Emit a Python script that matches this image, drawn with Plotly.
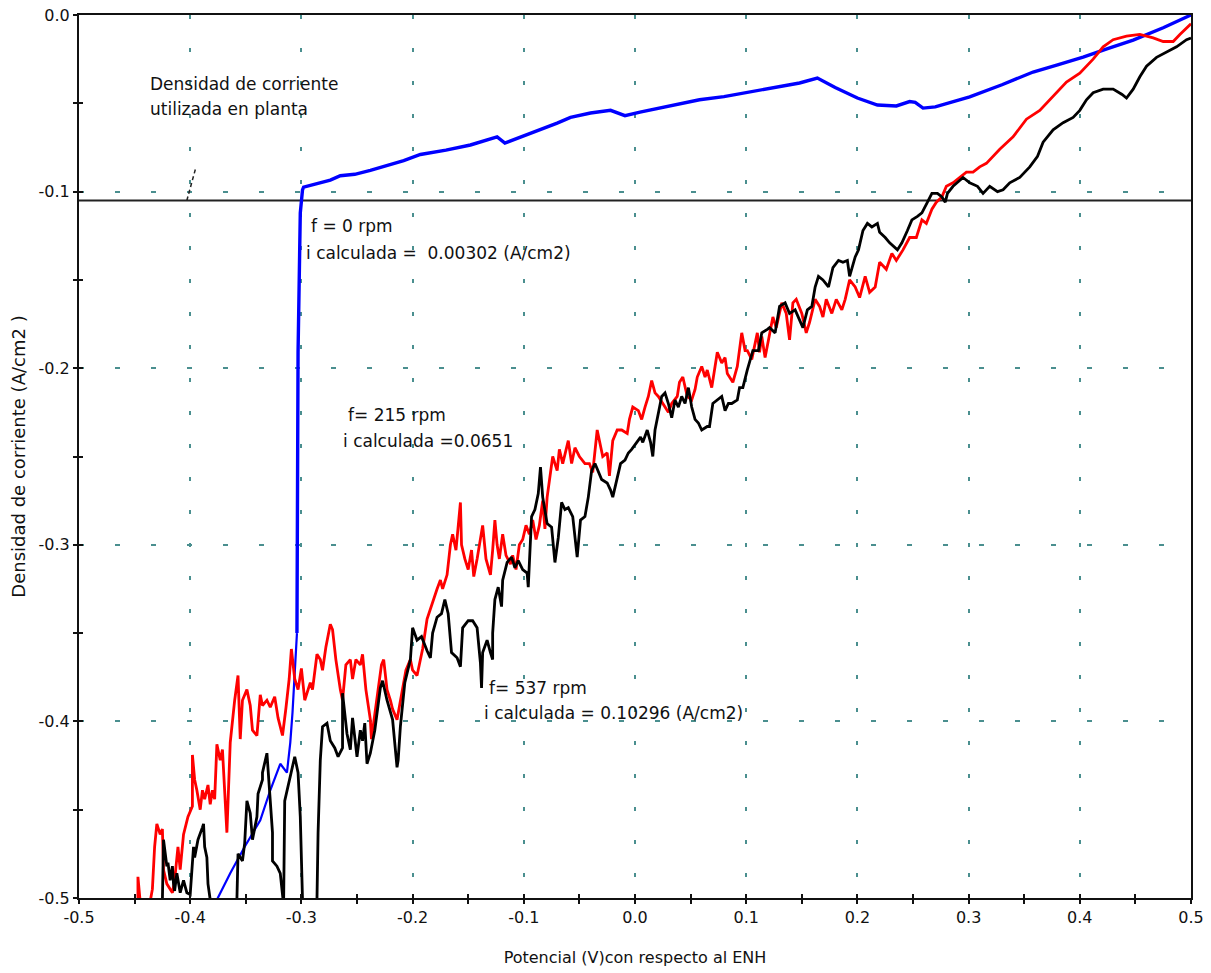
import plotly.graph_objects as go

# Potential (V vs. ENH) and current density (A/cm2) for each rotation speed
potential_0rpm = [-0.376, -0.364, -0.351, -0.337, -0.328, -0.319, -0.313, -0.310, -0.308, -0.304,
                  -0.303, -0.301, -0.299, -0.298, -0.290, -0.283, -0.274, -0.265, -0.252, -0.238,
                  -0.222, -0.208, -0.193, -0.170, -0.148, -0.136, -0.124, -0.117, -0.100, -0.085,
                  -0.070, -0.058, -0.040, -0.022, -0.009, 0.0045, 0.030, 0.058, 0.080, 0.103,
                  0.125, 0.148, 0.164, 0.180, 0.200, 0.218, 0.235, 0.247, 0.252, 0.259,
                  0.270, 0.301, 0.330, 0.358, 0.380, 0.403, 0.425, 0.448, 0.475, 0.500]
current_0rpm = [-0.501, -0.486, -0.471, -0.456, -0.439, -0.424, -0.429, -0.412, -0.395, -0.350,
                -0.191, -0.112, -0.099, -0.0975, -0.0962, -0.0946, -0.0935, -0.091, -0.0902, -0.088,
                -0.0850, -0.0825, -0.079, -0.0765, -0.0736, -0.0712, -0.069, -0.0725, -0.0685, -0.065,
                -0.0612, -0.058, -0.0555, -0.054, -0.057, -0.055, -0.0518, -0.048, -0.0462, -0.0436,
                -0.0412, -0.0385, -0.0357, -0.041, -0.047, -0.051, -0.0515, -0.049, -0.0495, -0.0527,
                -0.052, -0.0464, -0.0395, -0.0323, -0.0282, -0.0238, -0.0190, -0.0142, -0.0072, 0.0]

potential_215rpm = [
    -0.447, -0.447, -0.445, -0.436, -0.434, -0.432, -0.430, -0.427, -0.425, -0.424,
    -0.421, -0.416, -0.414, -0.411, -0.409, -0.406, -0.402, -0.398, -0.398, -0.396,
    -0.394, -0.391, -0.389, -0.387, -0.384, -0.382, -0.380, -0.378, -0.376, -0.373,
    -0.371, -0.369, -0.367, -0.364, -0.362, -0.360, -0.357, -0.355, -0.353, -0.349,
    -0.346, -0.344, -0.340, -0.337, -0.335, -0.331, -0.328, -0.324, -0.321, -0.317,
    -0.314, -0.311, -0.309, -0.306, -0.303, -0.300, -0.297, -0.292, -0.290, -0.286,
    -0.283, -0.281, -0.278, -0.274, -0.272, -0.269, -0.265, -0.263, -0.260, -0.256,
    -0.254, -0.251, -0.247, -0.245, -0.242, -0.238, -0.237, -0.234, -0.231, -0.228,
    -0.226, -0.223, -0.220, -0.218, -0.214, -0.211, -0.209, -0.206, -0.202, -0.200,
    -0.196, -0.193, -0.191, -0.187, -0.184, -0.181, -0.178, -0.175, -0.173, -0.169,
    -0.166, -0.164, -0.161, -0.157, -0.156, -0.153, -0.150, -0.147, -0.145, -0.142,
    -0.139, -0.137, -0.134, -0.130, -0.128, -0.126, -0.124, -0.122, -0.119, -0.116,
    -0.112, -0.110, -0.107, -0.104, -0.101, -0.098, -0.095, -0.092, -0.089, -0.086,
    -0.083, -0.081, -0.079, -0.074, -0.070, -0.068, -0.065, -0.060, -0.057, -0.054,
    -0.050, -0.045, -0.041, -0.038, -0.034, -0.032, -0.029, -0.025, -0.023, -0.020,
    -0.016, -0.012, -0.007, -0.005, -0.002, 0.003, 0.006, 0.009, 0.012, 0.015,
    0.018, 0.021, 0.025, 0.030, 0.033, 0.038, 0.040, 0.043, 0.047, 0.051,
    0.054, 0.056, 0.060, 0.063, 0.065, 0.069, 0.072, 0.074, 0.078, 0.081,
    0.083, 0.088, 0.092, 0.096, 0.099, 0.101, 0.105, 0.110, 0.112, 0.114,
    0.117, 0.121, 0.124, 0.127, 0.132, 0.136, 0.139, 0.142, 0.145, 0.150,
    0.154, 0.157, 0.162, 0.166, 0.169, 0.172, 0.177, 0.181, 0.186, 0.189,
    0.193, 0.198, 0.202, 0.207, 0.211, 0.216, 0.220, 0.226, 0.231, 0.235,
    0.241, 0.247, 0.253, 0.258, 0.262, 0.267, 0.271, 0.276, 0.280, 0.286,
    0.292, 0.298, 0.304, 0.310, 0.316, 0.328, 0.340, 0.352, 0.364, 0.376,
    0.388, 0.400, 0.412, 0.421, 0.430, 0.442, 0.454, 0.466, 0.475, 0.484,
    0.490, 0.500]
current_215rpm = [
    -0.502, -0.488, -0.502, -0.502, -0.495, -0.471, -0.458, -0.464, -0.461, -0.484,
    -0.492, -0.497, -0.490, -0.471, -0.484, -0.464, -0.454, -0.448, -0.419, -0.433,
    -0.439, -0.450, -0.439, -0.444, -0.436, -0.447, -0.439, -0.444, -0.413, -0.422,
    -0.416, -0.439, -0.463, -0.412, -0.399, -0.388, -0.374, -0.410, -0.388, -0.382,
    -0.391, -0.405, -0.408, -0.385, -0.391, -0.388, -0.392, -0.386, -0.398, -0.408,
    -0.393, -0.376, -0.359, -0.376, -0.382, -0.370, -0.388, -0.378, -0.382, -0.362,
    -0.365, -0.371, -0.358, -0.345, -0.348, -0.365, -0.382, -0.388, -0.368, -0.365,
    -0.376, -0.365, -0.368, -0.362, -0.382, -0.399, -0.410, -0.396, -0.382, -0.368,
    -0.365, -0.382, -0.388, -0.393, -0.399, -0.388, -0.382, -0.371, -0.365, -0.371,
    -0.374, -0.365, -0.359, -0.342, -0.336, -0.331, -0.325, -0.320, -0.325, -0.317,
    -0.300, -0.294, -0.303, -0.276, -0.300, -0.308, -0.314, -0.303, -0.318, -0.308,
    -0.297, -0.289, -0.308, -0.317, -0.303, -0.286, -0.300, -0.308, -0.294, -0.306,
    -0.311, -0.306, -0.314, -0.300, -0.297, -0.289, -0.294, -0.286, -0.297, -0.289,
    -0.275, -0.291, -0.273, -0.250, -0.258, -0.246, -0.254, -0.241, -0.254, -0.245,
    -0.250, -0.254, -0.254, -0.259, -0.235, -0.241, -0.250, -0.248, -0.261, -0.241,
    -0.235, -0.235, -0.237, -0.229, -0.222, -0.224, -0.229, -0.222, -0.216, -0.207,
    -0.214, -0.216, -0.220, -0.225, -0.220, -0.216, -0.208, -0.205, -0.216, -0.218,
    -0.212, -0.205, -0.199, -0.205, -0.201, -0.211, -0.199, -0.191, -0.197, -0.194,
    -0.203, -0.208, -0.199, -0.180, -0.190, -0.190, -0.195, -0.180, -0.191, -0.182,
    -0.194, -0.180, -0.171, -0.177, -0.163, -0.169, -0.184, -0.163, -0.161, -0.169,
    -0.180, -0.174, -0.161, -0.165, -0.171, -0.161, -0.169, -0.161, -0.167, -0.161,
    -0.150, -0.154, -0.160, -0.148, -0.157, -0.154, -0.140, -0.144, -0.135, -0.139,
    -0.133, -0.126, -0.126, -0.116, -0.118, -0.110, -0.106, -0.103, -0.097, -0.095,
    -0.092, -0.089, -0.089, -0.086, -0.084, -0.076, -0.069, -0.059, -0.054, -0.046,
    -0.038, -0.033, -0.025, -0.018, -0.014, -0.012, -0.011, -0.013, -0.015, -0.015,
    -0.011, -0.005]

potential_537rpm = [
    -0.425, -0.424, -0.421, -0.420, -0.418, -0.416, -0.415, -0.414, -0.412, -0.409,
    -0.406, -0.403, -0.400, -0.398, -0.397, -0.396, -0.393, -0.389, -0.388, -0.387,
    -0.385, -0.384, -0.382, -0.369, -0.358, -0.357, -0.353, -0.351, -0.349, -0.346,
    -0.344, -0.340, -0.339, -0.335, -0.335, -0.331, -0.328, -0.326, -0.326, -0.322,
    -0.319, -0.317, -0.316, -0.315, -0.310, -0.306, -0.303, -0.301, -0.299, -0.292,
    -0.286, -0.285, -0.283, -0.281, -0.277, -0.274, -0.270, -0.267, -0.263, -0.263,
    -0.259, -0.256, -0.254, -0.250, -0.247, -0.245, -0.243, -0.241, -0.238, -0.234,
    -0.229, -0.227, -0.223, -0.220, -0.218, -0.214, -0.213, -0.211, -0.207, -0.202,
    -0.200, -0.196, -0.192, -0.187, -0.184, -0.182, -0.178, -0.174, -0.171, -0.168,
    -0.165, -0.160, -0.157, -0.155, -0.150, -0.146, -0.142, -0.139, -0.138, -0.137,
    -0.133, -0.130, -0.128, -0.128, -0.126, -0.123, -0.120, -0.119, -0.115, -0.111,
    -0.108, -0.105, -0.101, -0.097, -0.096, -0.093, -0.090, -0.087, -0.085, -0.083,
    -0.079, -0.075, -0.072, -0.069, -0.066, -0.063, -0.060, -0.056, -0.052, -0.049,
    -0.045, -0.042, -0.039, -0.036, -0.033, -0.030, -0.025, -0.022, -0.020, -0.016,
    -0.013, -0.009, -0.006, -0.003, 0.002, 0.005, 0.007, 0.011, 0.014, 0.016,
    0.018, 0.021, 0.024, 0.027, 0.030, 0.033, 0.036, 0.039, 0.042, 0.045,
    0.048, 0.051, 0.054, 0.057, 0.060, 0.065, 0.067, 0.070, 0.074, 0.078,
    0.081, 0.084, 0.087, 0.092, 0.094, 0.097, 0.101, 0.103, 0.106, 0.111,
    0.114, 0.119, 0.121, 0.126, 0.130, 0.135, 0.139, 0.144, 0.148, 0.151,
    0.155, 0.159, 0.162, 0.165, 0.169, 0.174, 0.178, 0.183, 0.187, 0.191,
    0.193, 0.198, 0.201, 0.205, 0.209, 0.213, 0.218, 0.220, 0.225, 0.229,
    0.236, 0.240, 0.245, 0.249, 0.254, 0.258, 0.263, 0.267, 0.272, 0.276,
    0.279, 0.281, 0.286, 0.290, 0.295, 0.301, 0.308, 0.313, 0.319, 0.326,
    0.331, 0.337, 0.346, 0.355, 0.362, 0.367, 0.376, 0.385, 0.394, 0.400,
    0.406, 0.412, 0.421, 0.430, 0.438, 0.442, 0.448, 0.454, 0.460, 0.469,
    0.478, 0.487, 0.496, 0.500]
current_537rpm = [
    -0.501, -0.467, -0.482, -0.480, -0.490, -0.482, -0.492, -0.496, -0.486, -0.497,
    -0.490, -0.497, -0.498, -0.479, -0.471, -0.477, -0.467, -0.460, -0.458, -0.471,
    -0.477, -0.492, -0.501, -0.513, -0.501, -0.475, -0.479, -0.469, -0.445, -0.452,
    -0.467, -0.454, -0.441, -0.433, -0.429, -0.418, -0.449, -0.463, -0.479, -0.482,
    -0.486, -0.501, -0.504, -0.445, -0.432, -0.420, -0.429, -0.454, -0.501, -0.513,
    -0.501, -0.463, -0.422, -0.403, -0.401, -0.411, -0.415, -0.420, -0.415, -0.384,
    -0.407, -0.416, -0.398, -0.420, -0.405, -0.411, -0.401, -0.424, -0.418, -0.405,
    -0.381, -0.377, -0.388, -0.394, -0.399, -0.426, -0.422, -0.403, -0.378, -0.365,
    -0.347, -0.354, -0.352, -0.360, -0.364, -0.350, -0.341, -0.339, -0.331, -0.339,
    -0.361, -0.364, -0.369, -0.347, -0.343, -0.343, -0.347, -0.367, -0.381, -0.361,
    -0.354, -0.361, -0.365, -0.350, -0.331, -0.324, -0.335, -0.320, -0.310, -0.307,
    -0.313, -0.309, -0.314, -0.316, -0.324, -0.284, -0.280, -0.271, -0.256, -0.273,
    -0.288, -0.290, -0.310, -0.296, -0.276, -0.280, -0.279, -0.284, -0.307, -0.286,
    -0.284, -0.273, -0.258, -0.254, -0.258, -0.263, -0.265, -0.269, -0.273, -0.262,
    -0.254, -0.252, -0.248, -0.246, -0.242, -0.239, -0.242, -0.235, -0.242, -0.250,
    -0.235, -0.225, -0.216, -0.214, -0.220, -0.228, -0.218, -0.222, -0.216, -0.220,
    -0.211, -0.222, -0.229, -0.231, -0.235, -0.233, -0.233, -0.220, -0.218, -0.216,
    -0.224, -0.220, -0.220, -0.218, -0.211, -0.211, -0.201, -0.197, -0.190, -0.190,
    -0.180, -0.178, -0.177, -0.180, -0.165, -0.163, -0.169, -0.167, -0.173, -0.177,
    -0.167, -0.165, -0.154, -0.148, -0.150, -0.154, -0.143, -0.139, -0.140, -0.139,
    -0.148, -0.137, -0.133, -0.122, -0.118, -0.120, -0.118, -0.123, -0.126, -0.129,
    -0.133, -0.129, -0.122, -0.116, -0.114, -0.112, -0.106, -0.101, -0.101, -0.103,
    -0.106, -0.101, -0.097, -0.095, -0.092, -0.095, -0.097, -0.101, -0.097, -0.100,
    -0.099, -0.095, -0.092, -0.086, -0.080, -0.072, -0.065, -0.061, -0.058, -0.054,
    -0.048, -0.044, -0.042, -0.042, -0.045, -0.047, -0.042, -0.035, -0.029, -0.024,
    -0.021, -0.018, -0.014, -0.013]

# Current density used in the plant (horizontal reference)
plant_potential = [-0.5, 0.5]
plant_current = [-0.105, -0.105]

# Small slash marking the plant reference line
mark_potential = [-0.403, -0.395]
mark_current = [-0.105, -0.0866]

x_tick_values = [-0.5, -0.4, -0.3, -0.2, -0.1, 0.0, 0.1, 0.2, 0.3, 0.4, 0.5]
x_tick_labels = ["-0.5", "-0.4", "-0.3", "-0.2", "-0.1", "0.0", "0.1", "0.2", "0.3", "0.4", "0.5"]
y_tick_values = [0.0, -0.1, -0.2, -0.3, -0.4, -0.5]
y_tick_labels = ["0.0", "-0.1", "-0.2", "-0.3", "-0.4", "-0.5"]

FONT = "DejaVu Sans"
GRID = "#4a8f8f"
INK = "#111111"

# the 0 rpm sweep is drawn thinner below the vertical jump
SPLIT = 10

fig = go.Figure()

fig.add_trace(go.Scatter(x=plant_potential, y=plant_current, mode="lines",
                         line=dict(color="#222222", width=2), hoverinfo="skip"))
fig.add_trace(go.Scatter(x=mark_potential, y=mark_current, mode="lines",
                         line=dict(color="#222222", width=1.5, dash="4px,3px"), hoverinfo="skip"))
fig.add_trace(go.Scatter(x=potential_0rpm[:SPLIT], y=current_0rpm[:SPLIT], mode="lines",
                         line=dict(color="#0000ff", width=2.2), name="f = 0 rpm"))
fig.add_trace(go.Scatter(x=potential_0rpm[SPLIT - 1:], y=current_0rpm[SPLIT - 1:], mode="lines",
                         line=dict(color="#0000ff", width=3.4), name="f = 0 rpm"))
fig.add_trace(go.Scatter(x=potential_215rpm, y=current_215rpm, mode="lines",
                         line=dict(color="#ff0000", width=2.8), name="f = 215 rpm"))
fig.add_trace(go.Scatter(x=potential_537rpm, y=current_537rpm, mode="lines",
                         line=dict(color="#000000", width=2.8), name="f = 537 rpm"))
# empty trace that carries the inner tick marks
fig.add_trace(go.Scatter(x=[], y=[], xaxis="x2", yaxis="y2", hoverinfo="skip"))

notes = [
    (-0.437, -0.039, "Densidad de corriente"),
    (-0.437, -0.0535, "utilizada en planta"),
    (-0.292, -0.1195, "f = 0 rpm"),
    (-0.297, -0.1348, "i calculada =\u00a0 0.00302 (A/cm2)"),
    (-0.259, -0.2265, "f= 215 rpm"),
    (-0.2635, -0.2413, "i calculada =0.0651"),
    (-0.132, -0.381, "f= 537 rpm"),
    (-0.137, -0.395, "i calculada = 0.10296 (A/cm2)"),
]
for nx, ny, txt in notes:
    fig.add_annotation(x=nx, y=ny, text=txt, showarrow=False, xanchor="left", yanchor="middle",
                       font=dict(family=FONT, size=17, color=INK), borderpad=0)

axis_common = dict(showline=True, linecolor=INK, linewidth=2, mirror=True, automargin=False,
                   zeroline=False, ticks="outside", ticklen=4, tickwidth=2, tickcolor=INK,
                   showgrid=True, gridcolor=GRID, gridwidth=2,
                   tickfont=dict(family=FONT, size=16, color=INK))

fig.update_layout(
    width=1211, height=973,
    margin=dict(l=79, r=20, t=15, b=75),
    paper_bgcolor="white", plot_bgcolor="white",
    showlegend=False,
    xaxis=dict(range=[-0.5, 0.5], tickvals=x_tick_values, ticktext=x_tick_labels,
               griddash="4px,29px",
               minor=dict(dtick=0.05, tick0=-0.5, ticks="outside", ticklen=4, tickwidth=2,
                          tickcolor=INK, showgrid=False),
               title=dict(text="Potencial (V)con respecto al ENH", standoff=26,
                          font=dict(family=FONT, size=16, color=INK)),
               **axis_common),
    yaxis=dict(range=[-0.5, 0.0], tickvals=y_tick_values, ticktext=y_tick_labels,
               griddash="5px,31px",
               minor=dict(dtick=0.05, tick0=-0.5, ticks="outside", ticklen=4, tickwidth=2,
                          tickcolor=INK, showgrid=False),
               title=dict(text="Densidad de corriente (A/cm2 )", standoff=8,
                          font=dict(family=FONT, size=18, color=INK)),
               **axis_common),
    xaxis2=dict(range=[-0.5, 0.5], overlaying="x", anchor="y2", side="bottom", automargin=False,
                showgrid=False, zeroline=False, showline=False, showticklabels=False,
                ticks="inside", ticklen=4, tickwidth=2, tickcolor=INK, dtick=0.05, tick0=-0.5),
    yaxis2=dict(range=[-0.5, 0.0], overlaying="y", anchor="x2", side="left", automargin=False,
                showgrid=False, zeroline=False, showline=False, showticklabels=False,
                ticks="inside", ticklen=4, tickwidth=2, tickcolor=INK, dtick=0.05, tick0=-0.5),
)

fig.write_html("out.html")
